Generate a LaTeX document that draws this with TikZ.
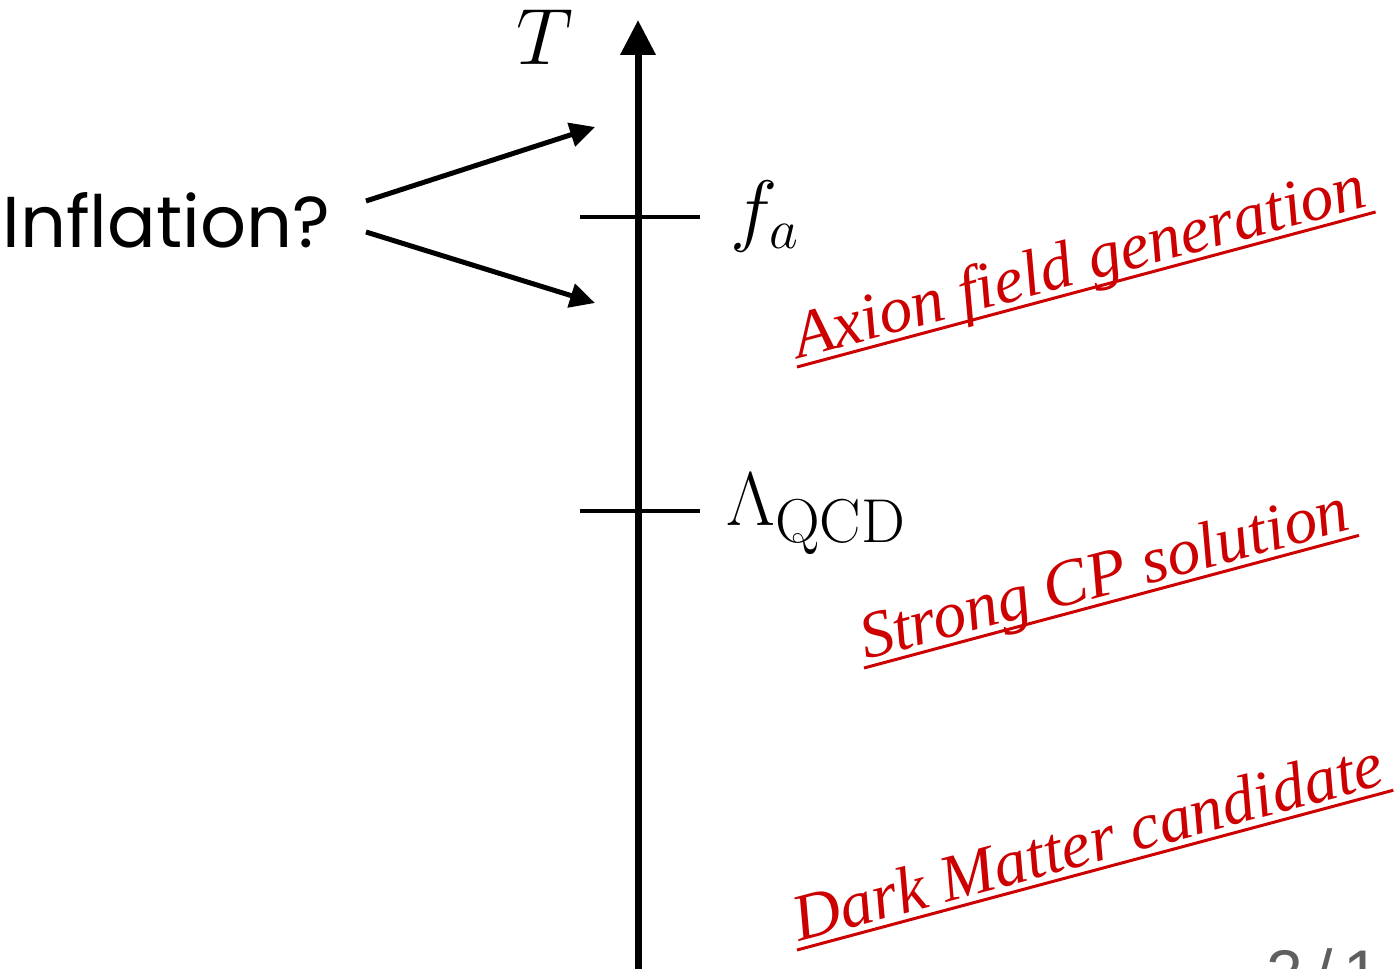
\RequirePackage{fix-cm}
\documentclass[tikz,border=0pt]{standalone}
\usepackage{fontspec}
\usetikzlibrary{arrows.meta}
\newfontfamily\inflfont{Poppins}
\newfontfamily\redfont{Liberation Serif}
\newfontfamily\pagefont{Liberation Sans}
\definecolor{labred}{rgb}{0.8,0,0}
\definecolor{pagegray}{RGB}{95,95,95}
\tikzset{
  axisline/.style={line width=3.5pt,-{Triangle[length=17.5pt,width=17pt]}},
  tickline/.style={line width=2pt},
  inflarrow/.style={line width=2.5pt,-{Triangle[length=12.5pt,width=12pt]}},
  mathlbl/.style={inner sep=0pt,font=\fontsize{40}{48}\selectfont},
  redlbl/.style={text=labred,inner xsep=2pt,inner ysep=3.5pt,text depth=0pt,rotate=15,
    font=\redfont\itshape\fontsize{33}{40}\selectfont},
  underl/.style={draw=labred,line width=1.5pt},
}
\begin{document}
\begin{tikzpicture}[x=0.5pt,y=-0.5pt]
\clip (0,0) rectangle (1395,968);
% axis
\coordinate (axbot) at (638,990);
\coordinate (axtop) at (638,20);
\draw[axisline] (axbot) -- (axtop);
\node[mathlbl,anchor=base west] (T) at (516,65) {$T$};
% ticks
\coordinate (fal) at (580,217);
\coordinate (far) at (700,217);
\coordinate (ql) at (580,511);
\coordinate (qr) at (700,511);
\draw[tickline] (fal) -- (far);
\draw[tickline] (ql) -- (qr);
\node[mathlbl,anchor=base west] (fa) at (730,236) {$f_a$};
\node[mathlbl,anchor=base west,font=\fontsize{38}{46}\selectfont] (qcd) at (726,525) {$\Lambda_{\hbox{\fontsize{31}{34}\selectfont QCD}}$};
% inflation
\node[inner sep=0pt,anchor=base west,font=\inflfont\fontsize{36}{44}\selectfont] (infl) at (2,247) {Inflation?};
\coordinate (s1) at (366,201);
\coordinate (t1) at (595,127);
\coordinate (s2) at (366,232);
\coordinate (t2) at (595,303);
\draw[inflarrow] (s1) -- (t1);
\draw[inflarrow] (s2) -- (t2);
% red labels
\node[redlbl,anchor=south west] (ax) at (797,367) {Axion field generation};
\draw[underl] (ax.south west) -- (ax.south east);
\node[redlbl,anchor=south west] (cp) at (864,668) {Strong CP solution};
\draw[underl] (cp.south west) -- (cp.south east);
\node[redlbl,anchor=south west] (dm) at (797,950) {Dark Matter candidate};
\draw[underl] (dm.south west) -- (dm.south east);
% page number
\node[inner sep=0pt,anchor=base west,text=pagegray,font=\pagefont\fontsize{33}{40}\selectfont] (pg) at (1266,996) {2\,/\,1};
\end{tikzpicture}
\end{document}
